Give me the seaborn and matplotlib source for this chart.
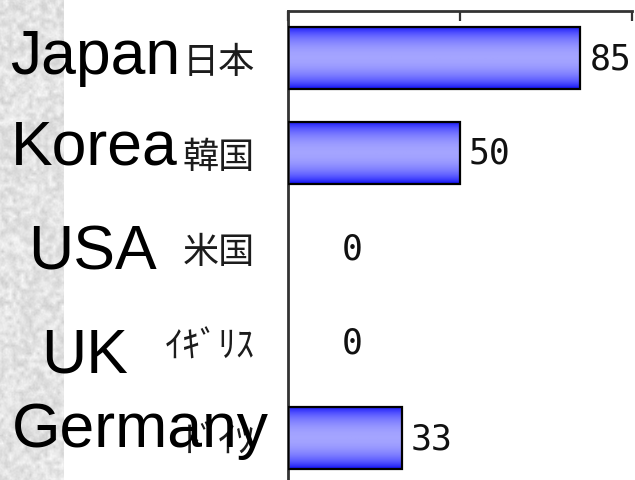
import numpy as np
import pandas as pd
import matplotlib
matplotlib.use("Agg")
import matplotlib.pyplot as plt
from matplotlib.colors import LinearSegmentedColormap
import seaborn as sns

# ---- data -------------------------------------------------------------
countries_en = ["Japan", "Korea", "USA", "UK", "Germany"]
countries_ja = ["日本", "韓国", "米国", "ｲｷﾞﾘｽ", "ﾄﾞｲﾂ"]
values = [85, 50, 0, 0, 33]
x_ticks = [0, 50, 100]

# ---- layout / style ---------------------------------------------------
W, H, DPI = 635, 481, 100
# (left x, baseline y) of the large English captions, in pixels
caption_pos = [(10, 74), (11, 165), (28, 270), (41, 373), (12, 447)]

sns.set_style("white")
plt.rcParams["font.family"] = ["Noto Sans CJK JP", "DejaVu Sans"]

fig = plt.figure(figsize=(W / DPI, H / DPI), dpi=DPI)
fig.patch.set_facecolor("white")

# fine grainy light-grey strip along the left edge
bg = fig.add_axes([0, 0, 64 / W, 1], zorder=-1)
rng = np.random.default_rng(11)
def box_blur(a, k):
    ker = np.ones(k) / k
    a = np.apply_along_axis(lambda r: np.convolve(r, ker, mode="same"), 0, a)
    a = np.apply_along_axis(lambda r: np.convolve(r, ker, mode="same"), 1, a)
    return a
coarse = np.kron(rng.random((125, 18)), np.ones((4, 4)))
tex = box_blur(coarse, 4) + 0.5 * box_blur(rng.random(coarse.shape), 2)
tex = tex[4:-4, 4:-4]
tex = (tex - tex.min()) / (tex.max() - tex.min())
shade = 0.80 + 0.18 * tex
bg.imshow(shade, cmap="gray", vmin=0, vmax=1, aspect="auto",
          interpolation="bilinear")
bg.set_axis_off()

# main bar chart
ax = fig.add_axes([288 / W, (H - 486.5) / H, 344 / W, 475 / H])
df = pd.DataFrame({"country": countries_ja, "value": values})
sns.barplot(data=df, y="country", x="value", orient="h", width=0.66,
            color="#3030ff", saturation=1, edgecolor="black",
            linewidth=1.6, ax=ax)

# vertical blue gradient inside each bar
cmap = LinearSegmentedColormap.from_list("barfill", ["#0000f0", "#5050ff", "#a4a4ff"])
grad = (np.sin(np.linspace(0, np.pi, 64)) ** 0.6).reshape(-1, 1)
for patch in list(ax.patches):
    x0, y0 = patch.get_x(), patch.get_y()
    w, h = patch.get_width(), patch.get_height()
    patch.set_facecolor("none")
    patch.set_zorder(3)
    if w <= 0:
        patch.set_visible(False)
        continue
    im = ax.imshow(grad, cmap=cmap, vmin=0, vmax=1, aspect="auto",
                   extent=[x0, x0 + w, y0 + h, y0], interpolation="bilinear",
                   zorder=2)
    im.set_clip_path(patch)

ax.set_xlim(0, 100)
ax.set_ylim(4.5, -0.5)
ax.set_xlabel("")
ax.set_ylabel("")

for side in ("right", "bottom"):
    ax.spines[side].set_visible(False)
for side in ("top", "left"):
    ax.spines[side].set_color("#333333")
    ax.spines[side].set_linewidth(2)

ax.xaxis.tick_top()
ax.set_xticks(x_ticks)
ax.set_xticklabels([])
ax.tick_params(axis="x", direction="in", length=7, width=1.6, color="#333333")

ax.set_yticks(range(len(countries_ja)))
ax.set_yticklabels(countries_ja)
ax.tick_params(axis="y", which="major", length=0, pad=24, labelsize=26,
               labelcolor="#1c1c1c")
ax.set_yticks([i + 0.5 for i in range(len(countries_ja) - 1)], minor=True)
ax.tick_params(axis="y", which="minor", direction="in", length=9.5,
               width=1.6, color="#333333")

# value labels
for i, v in enumerate(values):
    xpos = v if v > 0 else 13
    ax.annotate(str(v), xy=(xpos, i), xytext=(9, 0), textcoords="offset pixels",
                va="center", ha="left", fontsize=25, color="#111111",
                family="DejaVu Sans Mono", annotation_clip=False)

# large English captions
for name, (px, py) in zip(countries_en, caption_pos):
    fig.text(px / W, 1 - py / H, name, fontsize=45, family="Liberation Sans",
             va="baseline", ha="left", color="black", zorder=5)

fig.savefig("out.png", dpi=DPI)
